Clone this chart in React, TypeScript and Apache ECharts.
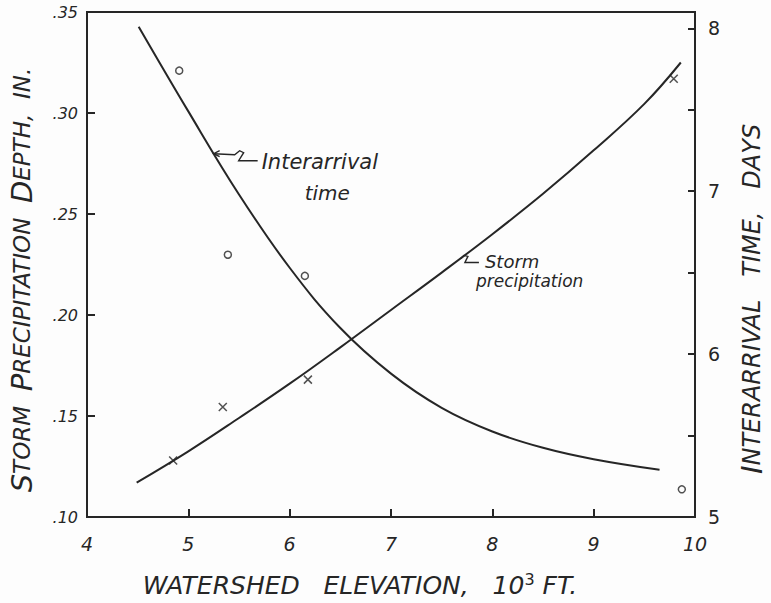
import React, { useEffect, useRef } from 'react';
import * as echarts from 'echarts';

// ---- data ----
const xTickValues = [4, 5, 6, 7, 8, 9, 10];
const xTickLabels = ['4', '5', '6', '7', '8', '9', '10'];
const leftTickValues = [0.1, 0.15, 0.2, 0.25, 0.3, 0.35];
const leftTickLabels = ['.10', '.15', '.20', '.25', '.30', '.35'];
const rightTickValues = [5, 6, 7, 8];
const rightTickLabels = ['5', '6', '7', '8'];

// fitted curve: interarrival time (days, right axis)
const interarrivalCurve: [number, number][] = [
  [4.51, 8.01], [5.0, 7.49], [5.5, 6.98], [6.0, 6.53], [6.5, 6.16], [7.0, 5.88],
  [7.5, 5.67], [8.0, 5.525], [8.5, 5.425], [9.0, 5.355], [9.65, 5.29],
];
// fitted curve: storm precipitation depth (in., left axis)
const stormCurve: [number, number][] = [
  [4.49, 0.117], [5.0, 0.1325], [5.5, 0.149], [6.0, 0.166], [6.5, 0.184], [7.0, 0.2025],
  [7.5, 0.221], [8.0, 0.24], [8.5, 0.26], [9.0, 0.2815], [9.5, 0.3045], [9.86, 0.325],
];
// observed points
const interarrivalObserved: [number, number][] = [[4.91, 7.74], [5.39, 6.61], [6.15, 6.48], [9.87, 5.17]];
const stormObserved: [number, number][] = [[4.85, 0.128], [5.34, 0.1545], [6.18, 0.168], [9.79, 0.317]];

// annotation anchors (data coordinates on the curves)
const interarrivalNoteAt: [number, number] = [5.24, 7.23];
const stormNoteAt: [number, number] = [7.69, 0.2285];

const ink = '#262626';
const FONT = '"DejaVu Sans", sans-serif';

function pick(values: number[], labels: string[], v: number) {
  for (let i = 0; i < values.length; i++) {
    if (Math.abs(values[i] - v) < 1e-6) return labels[i];
  }
  return '';
}

const option: any = {
  animation: false,
  backgroundColor: '#fdfdfd',
  grid: {
    left: 87, right: 76, top: 12, bottom: 86,
    show: true, borderColor: ink, borderWidth: 2, backgroundColor: 'transparent',
  },
  xAxis: {
    type: 'value', min: 4, max: 10, interval: 1,
    axisLine: { show: false },
    splitLine: { show: false },
    axisTick: { show: true, inside: true, length: 8, lineStyle: { color: ink, width: 2 } },
    axisLabel: {
      margin: 17, fontSize: 19, fontStyle: 'italic', color: ink, fontFamily: FONT,
      formatter: (v: number) => pick(xTickValues, xTickLabels, v),
    },
  },
  yAxis: [
    {
      type: 'value', min: 0.1, max: 0.35, interval: 0.05, position: 'left',
      axisLine: { show: false },
      splitLine: { show: false },
      axisTick: { show: true, inside: true, length: 8, lineStyle: { color: ink, width: 2 } },
      axisLabel: {
        margin: 9, fontSize: 16, fontStyle: 'italic', color: ink, fontFamily: FONT,
        formatter: (v: number) => pick(leftTickValues, leftTickLabels, v),
      },
    },
    {
      type: 'value', min: 5, max: 8.1, interval: 0.5, position: 'right',
      axisLine: { show: false },
      splitLine: { show: false },
      axisTick: { show: true, inside: true, length: 7, lineStyle: { color: ink, width: 2 } },
      axisLabel: {
        margin: 13, fontSize: 19, color: ink, fontFamily: FONT, showMaxLabel: false,
        formatter: (v: number) => pick(rightTickValues, rightTickLabels, v),
      },
    },
  ],
  series: [
    {
      name: 'Interarrival time', type: 'line', yAxisIndex: 1, data: interarrivalCurve,
      smooth: 0.4, showSymbol: false, lineStyle: { color: ink, width: 2 },
    },
    {
      name: 'Storm precipitation', type: 'line', yAxisIndex: 0, data: stormCurve,
      smooth: 0.4, showSymbol: false, lineStyle: { color: ink, width: 2 },
    },
    {
      name: 'Interarrival observed', type: 'scatter', yAxisIndex: 1, data: interarrivalObserved,
      symbol: 'circle', symbolSize: 7,
      itemStyle: { color: 'transparent', borderColor: ink, borderWidth: 1.5 },
    },
    {
      name: 'Storm observed', type: 'scatter', yAxisIndex: 0, data: stormObserved,
      symbol: 'path://M0,0L10,10M10,0L0,10', symbolSize: 8,
      itemStyle: { color: 'transparent', borderColor: ink, borderWidth: 1.5 },
    },
  ],
};

function txt(x: number, y: number, text: string, font: string, extra: any = {}) {
  return {
    type: 'text', x, y, silent: true,
    style: {
      text, font, fill: ink,
      textAlign: 'left', textVerticalAlign: 'middle', align: 'left', verticalAlign: 'middle',
    },
    ...extra,
  };
}

function buildGraphics(chart: any) {
  const a = chart.convertToPixel({ xAxisIndex: 0, yAxisIndex: 1 }, interarrivalNoteAt);
  const b = chart.convertToPixel({ xAxisIndex: 0, yAxisIndex: 0 }, stormNoteAt);
  const line = { stroke: ink, lineWidth: 1.4, fill: 'none' };
  const els: any[] = [];
  // interarrival arrow
  els.push({ type: 'polyline', silent: true, shape: { points: [[a[0] + 1, a[1]], [a[0] + 22, a[1] + 1], [a[0] + 27, a[1] - 3], [a[0] + 31, a[1] - 1], [a[0] + 26, a[1] + 7], [a[0] + 45, a[1] + 7]] }, style: line });
  els.push({ type: 'polyline', silent: true, shape: { points: [[a[0] + 7, a[1] - 3], [a[0] + 1, a[1]], [a[0] + 7, a[1] + 3]] }, style: line });
  els.push(txt(a[0] + 49, a[1] + 8, 'Interarrival', `italic 21px ${FONT}`));
  els.push(txt(a[0] + 92, a[1] + 39, 'time', `italic 20px ${FONT}`));
  // storm arrow
  els.push({ type: 'polyline', silent: true, shape: { points: [[b[0], b[1] + 1], [b[0] + 3, b[1] - 2], [b[0] + 7, b[1] - 1], [b[0] + 4, b[1] + 5], [b[0] + 18, b[1] + 5]] }, style: line });
  els.push(txt(b[0] + 24, b[1] + 4, 'Storm', `italic 18px ${FONT}`));
  els.push(txt(b[0] + 15, b[1] + 24, 'precipitation', `italic 17px ${FONT}`));

  // axis titles
  els.push({
    type: 'text', x: 22, y: 280, rotation: Math.PI / 2, silent: true,
    style: {
      text: '{b|S}{s|TORM}  {b|P}{s|RECIPITATION}  {b|D}{s|EPTH,}  {s|IN.}',
      fill: ink, textAlign: 'center', textVerticalAlign: 'middle', align: 'center', verticalAlign: 'middle',
      font: `italic 23px ${FONT}`,
      rich: {
        b: { fontSize: 29, fontStyle: 'italic', fontFamily: FONT, fill: ink, color: ink },
        s: { fontSize: 23, fontStyle: 'italic', fontFamily: FONT, fill: ink, color: ink },
      },
    },
  });
  els.push({
    type: 'text', x: 752, y: 299, rotation: Math.PI / 2, silent: true,
    style: {
      text: '{b|I}{s|NTERARRIVAL   TIME,   DAYS}',
      fill: ink, textAlign: 'center', textVerticalAlign: 'middle', align: 'center', verticalAlign: 'middle',
      font: `italic 24px ${FONT}`,
      rich: {
        b: { fontSize: 29, fontStyle: 'italic', fontFamily: FONT, fill: ink, color: ink },
        s: { fontSize: 24, fontStyle: 'italic', fontFamily: FONT, fill: ink, color: ink },
      },
    },
  });
  els.push({
    type: 'text', x: 360, y: 585, silent: true,
    style: {
      text: '{s|WATERSHED   ELEVATION,   10}{sup|3}{s| FT.}',
      fill: ink, textAlign: 'center', textVerticalAlign: 'middle', align: 'center', verticalAlign: 'middle',
      font: `italic 25px ${FONT}`,
      rich: {
        s: { fontSize: 25, fontStyle: 'italic', fontFamily: FONT, fill: ink, color: ink },
        sup: { fontSize: 16, fontFamily: FONT, fill: ink, color: ink, verticalAlign: 'top', padding: [0, 0, 12, 0] },
      },
    },
  });
  return els;
}

export default function App() {
  const ref = useRef<HTMLDivElement>(null);
  useEffect(() => {
    const chart = echarts.init(ref.current!, null, { renderer: 'svg' });
    chart.setOption(option);
    chart.setOption({ graphic: { elements: buildGraphics(chart) } });
    return () => chart.dispose();
  }, []);
  return <div ref={ref} style={{ position: 'fixed', left: 0, top: 0, width: 771, height: 603 }} />;
}
